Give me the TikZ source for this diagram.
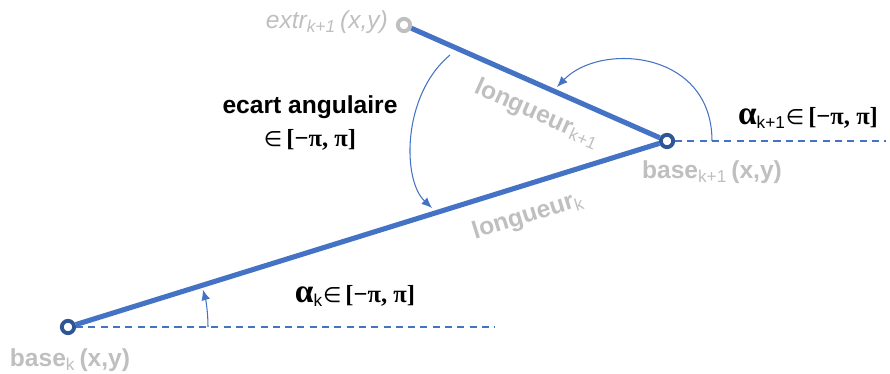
\documentclass[tikz,border=0pt]{standalone}
\usepackage{fontspec}
\setmainfont{Liberation Sans}
\newfontfamily\grfont{Liberation Serif}
\newfontfamily\elemfont{DejaVu Sans}
\usetikzlibrary{arrows.meta}
\usetikzlibrary{positioning}
\definecolor{lineblue}{RGB}{68,114,196}
\definecolor{ringblue}{RGB}{47,85,151}
\definecolor{labelgray}{RGB}{191,191,191}
\newcommand{\range}{{\elemfont\mdseries\fontsize{12}{12}\selectfont ∈}\,{\grfont [−π, π]}}
\tikzstyle{joint}=[circle, draw=ringblue, fill=white, line width=2.2pt,
inner sep=0pt, minimum size=7pt]
\tikzstyle{segment}=[draw=lineblue, line width=2.9pt]
\tikzstyle{axis}=[draw=lineblue, line width=0.6pt, dash pattern=on 4pt off 3pt]
\tikzstyle{turn}=[->, >={Latex[length=6pt,width=5pt]}, draw=lineblue, line width=0.6pt]
\tikzstyle{grey}=[text=labelgray, font=\fontsize{14}{17}\selectfont\bfseries, inner sep=1pt]
\tikzstyle{dark}=[text=black, font=\fontsize{14}{19}\selectfont\bfseries, inner sep=1pt]

\begin{document}
\begin{tikzpicture}[x=0.02cm, y=-0.02cm]
    \useasboundingbox (0,0) rectangle (890,374);

    % les trois points
    \node[joint] (bk) at (68,327) {};
    \node[joint] (bk1) at (667,141) {};
    \node[joint, draw=labelgray] (ex) at (404,25) {};
    \coordinate (hk) at (495,327);
    \coordinate (hk1) at (886,141);

    \draw[axis] (bk) -- (hk);
    \draw[axis] (bk1) -- (hk1);
    \draw[segment] (bk) -- (bk1);
    \draw[segment] (bk1) -- (ex);

    % angles
    \coordinate (ak0) at (208,327);
    \draw[turn] (ak0) arc[start angle=0, end angle=15.5, radius=2.8cm];
    \coordinate (ak1) at (712,141);
    \coordinate (tk1) at (557,87);
    \draw[turn] (ak1) .. controls (712,50) and (600,42) .. (tk1);
    \coordinate (e0) at (450,55);
    \coordinate (e1) at (432,208);
    \draw[turn] (e0) .. controls (402,95) and (402,180) .. (e1);

    % textes
    \node[grey, anchor=east] (exl) at (390,22) {\mdseries\itshape extr\textsubscript{k+1}\,(x,y)};
    \node[grey] (bkl) at (70,360) {base\textsubscript{\mdseries k}\,(x,y)};
    \node[grey] (bk1l) at (712,172) {base\textsubscript{\mdseries k+1}\,(x,y)};
    \node[grey, rotate=-24] (lk1) at (537,114) {longueur\textsubscript{\mdseries k+1}};
    \node[grey, rotate=17.25] (lk) at (528,216) {longueur\textsubscript{\mdseries k}};
    \node[dark, align=center] (ecart) at (310,123) {ecart angulaire\\ \range};
    \node[dark] (ak) at (355,296) {{\grfont\fontsize{19}{19}\selectfont α}\textsubscript{\mdseries k}\range};
    \node[dark] (ak1l) at (808,118) {{\grfont\fontsize{19}{19}\selectfont α}\textsubscript{\mdseries k+1}\range};
\end{tikzpicture}
\end{document}
